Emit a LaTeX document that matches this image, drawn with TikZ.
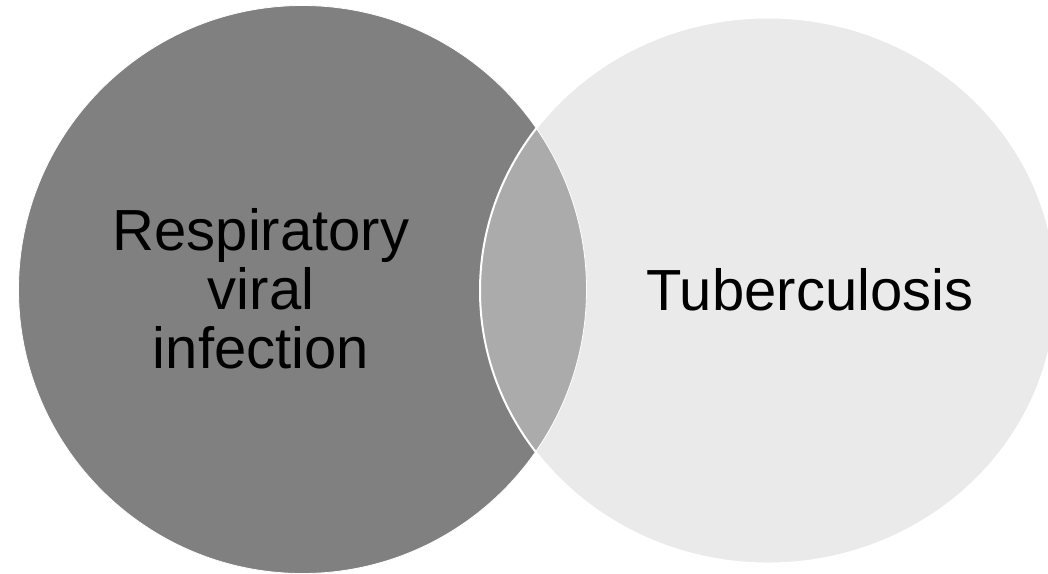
\documentclass[tikz,border=0pt]{standalone}
\usepackage{fontspec}
\setmainfont{Liberation Sans}
\definecolor{darkc}{HTML}{808080}
\definecolor{lightc}{HTML}{EAEAEA}
\definecolor{midc}{HTML}{ABABAB}
\begin{document}
\begin{tikzpicture}[x=1pt,y=-1pt,
  lbl/.style={align=center,font=\fontsize{58}{59}\selectfont,inner sep=0pt}]
\useasboundingbox (0,0) rectangle (1048,573);
\begin{scope}
\clip (0,0) rectangle (1048,573);
\fill[darkc] (302.5,289.5) circle [radius=284];
\fill[lightc] (768,290.5) ellipse [x radius=288, y radius=273];
\begin{scope}
\clip (302.5,289.5) circle [radius=284];
\fill[midc] (768,290.5) ellipse [x radius=288, y radius=273];
\end{scope}
\draw[white,line width=0.8] (302.5,289.5) circle [radius=284];
\draw[white,line width=2] (768,290.5) ellipse [x radius=288, y radius=273];
\end{scope}
\node[lbl] (a) at (261,289) {Respiratory\\viral\\infection};
\node[lbl] (b) at (810,290) {Tuberculosis};
\end{tikzpicture}
\end{document}
